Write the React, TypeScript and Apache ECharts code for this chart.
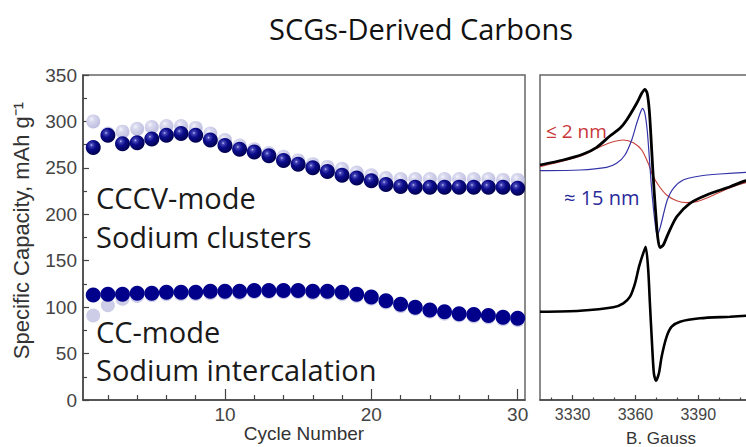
import React, { useEffect, useRef } from "react";
import * as echarts from "echarts";

// ---- Left panel: cycling data ----
const cycles = [1, 2, 3, 4, 5, 6, 7, 8, 9, 10, 11, 12, 13, 14, 15, 16, 17, 18, 19, 20, 21, 22, 23, 24, 25, 26, 27, 28, 29, 30];
const cccvFaded = [300, 287, 289, 292, 294, 295, 295, 293, 287, 280, 274, 270, 266, 262, 258, 254, 251, 249, 245, 242, 239, 238, 238, 238, 238, 238, 238, 238, 237, 237];
const cccvMain = [272, 285, 276, 277, 281, 285, 287, 285, 280, 274, 270, 267, 263, 258, 254, 250, 246, 242, 239, 236, 232, 230, 229, 229, 229, 229, 229, 229, 229, 228];
const ccFaded = [91, 102, 109, 112, 113, 114, 114, 114, 115, 115, 115, 116, 116, 116, 116, 115, 115, 114, 112, 109, 105, 101, 98, 95, 93, 91, 90, 89, 87, 86];
const ccMain = [113, 114, 114, 115, 115, 116, 116, 116, 117, 117, 117, 118, 118, 118, 118, 117, 117, 116, 114, 111, 107, 103, 100, 97, 95, 93, 92, 91, 89, 88];
const cycleLabels = [10, 20, 30];
const cycleMinor = [2, 4, 6, 8, 12, 14, 16, 18, 22, 24, 26, 28];

// ---- Right panel: EPR spectra (B, Gauss ; intensity a.u.) ----
const sumB = [3314.4, 3325.5, 3335.1, 3341.5, 3347.8, 3352.6, 3355.8, 3360.6, 3363.0, 3364.5, 3365.6, 3366.6, 3367.4, 3368.2, 3369.0, 3369.8, 3370.6, 3371.7, 3373.3, 3375.7, 3379.7, 3386.0, 3394.0, 3405.2, 3412.8, 3420];
const sumI = [235, 240, 246, 252.7, 264, 271.7, 280, 296.7, 306.7, 310.7, 306.7, 290, 263.3, 233.3, 206.7, 183.3, 163.3, 152.3, 155, 166.7, 183.3, 196.7, 205, 213.3, 219.3, 221];
const smallB = [3314.4, 3325.5, 3335.1, 3341.5, 3347.8, 3354.2, 3359.0, 3363.0, 3366.1, 3368.2, 3370.9, 3374.9, 3379.7, 3384.5, 3389.2, 3395.6, 3405.2, 3412.8, 3420];
const smallI = [233.3, 239, 245, 251.7, 257.3, 260, 257.3, 250, 236.7, 225, 215, 205, 199.3, 197.3, 198.3, 203.3, 212.3, 217.3, 219];
const largeB = [3314.4, 3333.5, 3346.2, 3351.0, 3355.0, 3358.2, 3360.6, 3362.5, 3363.4, 3364.5, 3365.6, 3366.6, 3367.5, 3368.5, 3369.7, 3370.4, 3371.7, 3373.3, 3375.2, 3378.1, 3382.8, 3390.8, 3400.3, 3412.8, 3420];
const largeI = [229.3, 230, 232.7, 236.7, 245, 260, 276.7, 288.3, 291.7, 286.7, 270, 243.3, 216.7, 193.3, 171.7, 165, 171.7, 185, 200, 211.7, 220, 224, 226, 227.7, 228];
const lowB = [3314.4, 3333.5, 3349.4, 3354.2, 3357.4, 3359.8, 3361.7, 3363.7, 3364.9, 3366.1, 3366.9, 3367.9, 3368.8, 3369.8, 3371.2, 3372.5, 3374.9, 3377.3, 3381.3, 3390.8, 3405.2, 3412.8, 3420];
const lowI = [88.3, 89.3, 92.7, 96.7, 103.3, 116.7, 133.3, 146.7, 153.3, 130, 96.7, 56.7, 26.7, 19.3, 26.7, 43.3, 63.3, 73.3, 78.3, 81.7, 83.3, 84.3, 85];
const gaussLabels = [3330, 3360, 3390];
const gaussMinor = [3320, 3340, 3350, 3370, 3380, 3400, 3410];

const AX = "#444";
const SANS = "Liberation Sans, Arial, sans-serif";
const OPEN = "Open Sans, sans-serif";

const sphere = {
  type: "radial", x: 0.38, y: 0.34, r: 0.66,
  colorStops: [
    { offset: 0, color: "#c4c4f4" },
    { offset: 0.14, color: "#4646b8" },
    { offset: 0.45, color: "#0c0c8c" },
    { offset: 1, color: "#000050" },
  ],
};
const fadedSphere = {
  type: "radial", x: 0.38, y: 0.34, r: 0.66,
  colorStops: [
    { offset: 0, color: "#f4f4fc" },
    { offset: 0.3, color: "#d8d8ee" },
    { offset: 1, color: "#bebee0" },
  ],
};

const pair = (xs: number[], ys: number[]) => xs.map((x, i) => [x, ys[i]]);

export default function App() {
  const ref = useRef<HTMLDivElement>(null);
  useEffect(() => {
    document.body.style.margin = "0";
    const chart = echarts.init(ref.current!, null, { renderer: "svg" });
    chart.setOption({
      animation: false,
      backgroundColor: "#fff",
      grid: [
        { left: 83, top: 75, width: 442, height: 325, show: true, borderColor: "#666", borderWidth: 1.5, outerBoundsMode: "none", containLabel: false },
        { left: 540, top: 75, width: 242, height: 325, show: true, borderColor: "#666", borderWidth: 1.5, outerBoundsMode: "none", containLabel: false },
      ],
      xAxis: [
        {
          gridIndex: 0, type: "value", min: 0.3, max: 30.5, position: "bottom",
          axisLine: { lineStyle: { color: AX, width: 1.5 } },
          axisTick: { inside: true, length: 11, customValues: cycleLabels, lineStyle: { color: AX, width: 1.2 } },
          axisLabel: { customValues: cycleLabels, fontSize: 19, color: AX, fontFamily: SANS, margin: 5 },
          splitLine: { show: false },
          name: "Cycle Number", nameLocation: "middle", nameGap: 24, nameMoveOverlap: false,
          nameTextStyle: { fontSize: 19, color: "#333", fontFamily: SANS },
        },
        {
          gridIndex: 0, type: "value", min: 0.3, max: 30.5, position: "bottom",
          axisLine: { show: false },
          axisTick: { inside: true, length: 5, customValues: cycleMinor, lineStyle: { color: AX, width: 1.2 } },
          axisLabel: { show: false },
          splitLine: { show: false },
        },
        {
          gridIndex: 1, type: "value", min: 3314.4, max: 3430, position: "bottom",
          axisLine: { lineStyle: { color: AX, width: 1.5 } },
          axisTick: { inside: true, length: 5, customValues: gaussLabels, lineStyle: { color: AX, width: 1.2 } },
          axisLabel: { customValues: gaussLabels, formatter: (v: number) => String(v), fontSize: 16, color: AX, fontFamily: SANS, margin: 6 },
          splitLine: { show: false },
          name: "B. Gauss", nameLocation: "middle", nameGap: 30, nameMoveOverlap: false,
          nameTextStyle: { fontSize: 17, color: "#333", fontFamily: SANS },
        },
        {
          gridIndex: 1, type: "value", min: 3314.4, max: 3430, position: "bottom",
          axisLine: { show: false },
          axisTick: { inside: true, length: 2.5, customValues: gaussMinor, lineStyle: { color: AX, width: 1.2 } },
          axisLabel: { show: false },
          splitLine: { show: false },
        },
      ],
      yAxis: [
        {
          gridIndex: 0, type: "value", min: 0, max: 350, interval: 50,
          axisLine: { show: true, lineStyle: { color: AX, width: 1.5 } },
          axisTick: { show: true, inside: true, length: 6, lineStyle: { color: AX, width: 1.2 } },
          minorTick: { show: true, splitNumber: 2, length: 4, lineStyle: { color: AX, width: 1.2 } },
          axisLabel: { fontSize: 19, color: AX, fontFamily: SANS, margin: 6 },
          splitLine: { show: false },
          name: "Specific Capacity, mAh g⁻¹", nameLocation: "middle", nameGap: 51,
          nameTextStyle: { fontSize: 22, color: "#333", fontFamily: SANS, padding: [0, 0, 0, 14] },
        },
        { gridIndex: 1, type: "value", min: 0, max: 325, show: false },
      ],
      series: [
        { type: "scatter", xAxisIndex: 0, yAxisIndex: 0, symbolSize: 14, data: pair(cycles, cccvFaded), itemStyle: { color: fadedSphere, opacity: 1 } },
        { type: "scatter", xAxisIndex: 0, yAxisIndex: 0, symbolSize: 14, data: pair(cycles, ccFaded), itemStyle: { color: "#cdcde8", opacity: 1 } },
        { type: "scatter", xAxisIndex: 0, yAxisIndex: 0, symbolSize: 15, data: pair(cycles, cccvMain), itemStyle: { color: sphere, opacity: 1 } },
        { type: "scatter", xAxisIndex: 0, yAxisIndex: 0, symbolSize: 15, data: pair(cycles, ccMain), itemStyle: { color: "#00008a", opacity: 1 } },
        { type: "line", xAxisIndex: 2, yAxisIndex: 1, showSymbol: false, smooth: 0.25, data: pair(smallB, smallI), lineStyle: { color: "#c8443c", width: 1.2 } },
        { type: "line", xAxisIndex: 2, yAxisIndex: 1, showSymbol: false, smooth: 0.25, data: pair(largeB, largeI), lineStyle: { color: "#3434a8", width: 1.2 } },
        { type: "line", xAxisIndex: 2, yAxisIndex: 1, showSymbol: false, smooth: 0.25, data: pair(sumB, sumI), lineStyle: { color: "#000", width: 2.8 } },
        { type: "line", xAxisIndex: 2, yAxisIndex: 1, showSymbol: false, smooth: 0.25, data: pair(lowB, lowI), lineStyle: { color: "#000", width: 2.6 } },
      ],
      graphic: [
        { type: "text", x: 421, y: 28, style: { text: "SCGs-Derived Carbons", fontSize: 29, fontFamily: OPEN, fill: "#111", align: "center", verticalAlign: "middle" } },
        { type: "text", x: 96, y: 197, style: { text: "CCCV-mode", fontSize: 29, fontFamily: OPEN, fill: "#1a1a1a", align: "left", verticalAlign: "middle" } },
        { type: "text", x: 96, y: 236, style: { text: "Sodium clusters", fontSize: 29, fontFamily: OPEN, fill: "#1a1a1a", align: "left", verticalAlign: "middle" } },
        { type: "text", x: 96, y: 331, style: { text: "CC-mode", fontSize: 29, fontFamily: OPEN, fill: "#1a1a1a", align: "left", verticalAlign: "middle" } },
        { type: "text", x: 96, y: 369, style: { text: "Sodium intercalation", fontSize: 29, fontFamily: OPEN, fill: "#1a1a1a", align: "left", verticalAlign: "middle" } },
        { type: "text", x: 546, y: 131, style: { text: "≤ 2 nm", fontSize: 19, fontFamily: OPEN, fill: "#c8363a", align: "left", verticalAlign: "middle" } },
        { type: "text", x: 564, y: 197, style: { text: "≈ 15 nm", fontSize: 20, fontFamily: OPEN, fill: "#2a2a9c", align: "left", verticalAlign: "middle" } },
      ],
    });
    return () => chart.dispose();
  }, []);
  return <div ref={ref} style={{ width: 746, height: 447 }} />;
}
